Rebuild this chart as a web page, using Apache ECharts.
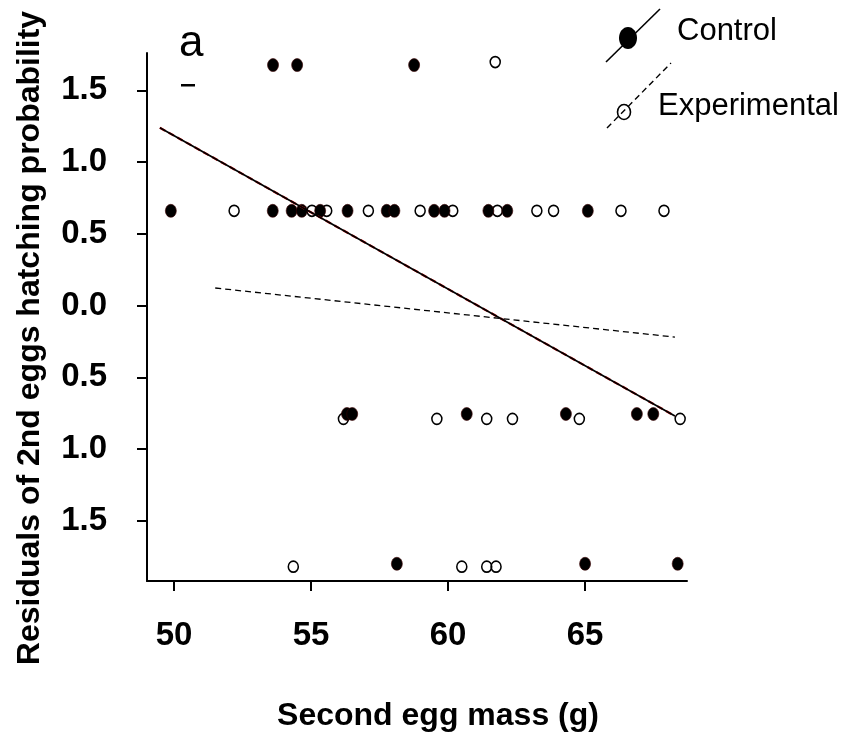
<!DOCTYPE html>
<html>
<head>
<meta charset="utf-8">
<script src="https://cdn.jsdelivr.net/npm/echarts@6/dist/echarts.min.js"></script>
<style>
  html, body { margin: 0; padding: 0; background: #fff; }
  #chart { width: 848px; height: 737px; }
</style>
</head>
<body>
<div id="chart"></div>
<script>
// Second egg mass (g) against residual hatching probability of the 2nd egg
const controlMass = [
  53.61, 54.49, 58.76,
  49.88, 53.60, 54.29, 54.66, 55.33, 56.33, 57.76, 58.04, 59.49, 59.87, 61.47, 62.16, 65.10,
  56.31, 56.50, 60.68, 64.30, 66.89, 67.49,
  58.13, 65.00, 68.38
];
const controlResid = [
  1.676, 1.676, 1.676,
  0.66, 0.66, 0.66, 0.66, 0.66, 0.66, 0.66, 0.66, 0.66, 0.66, 0.66, 0.66, 0.66,
  -0.756, -0.756, -0.756, -0.756, -0.756, -0.756,
  -1.80, -1.80, -1.80
];
const experimentalMass = [
  61.72,
  52.19, 55.03, 55.57, 57.09, 58.98, 60.17, 61.80, 63.24, 63.85, 66.31, 67.88,
  56.18, 59.59, 61.41, 62.35, 64.79, 68.47,
  54.35, 60.50, 61.41, 61.75
];
const experimentalResid = [
  1.697,
  0.66, 0.66, 0.66, 0.66, 0.66, 0.66, 0.66, 0.66, 0.66, 0.66, 0.66,
  -0.79, -0.79, -0.79, -0.79, -0.79, -0.79,
  -1.82, -1.82, -1.82, -1.82
];

// fitted regression lines (end points)
const controlFitMass = [49.48, 68.28];
const controlFitResid = [1.239, -0.77];
const experimentalFitMass = [51.5, 68.28];
const experimentalFitResid = [0.122, -0.22];

// axis ticks
const massTicks = [50, 55, 60, 65];
const residTicks = [-1.5, -1.0, -0.5, 0.0, 0.5, 1.0, 1.5];

const zip = (xs, ys) => xs.map((x, i) => [x, ys[i]]);

const FONT = '"Liberation Sans", Arial, Helvetica, sans-serif';
const chart = echarts.init(document.getElementById('chart'), null, { renderer: 'canvas' });

const axisCommon = {
  type: 'value',
  splitLine: { show: false },
  axisLine: { show: true, onZero: false, lineStyle: { color: '#000', width: 2 } },
  axisTick: { show: true, inside: false, length: 10, lineStyle: { color: '#000', width: 2 } },
  axisLabel: { color: '#000', fontFamily: FONT, fontWeight: 'bold', fontSize: 33 }
};

chart.setOption({
  backgroundColor: '#fff',
  animation: false,
  grid: { left: 147, top: 53, width: 540, height: 528, containLabel: false },
  xAxis: Object.assign({}, axisCommon, {
    min: 49.01, max: 68.72,
    axisTick: Object.assign({}, axisCommon.axisTick, { customValues: massTicks }),
    axisLabel: Object.assign({}, axisCommon.axisLabel, { customValues: massTicks, margin: 38 })
  }),
  yAxis: Object.assign({}, axisCommon, {
    min: -1.92, max: 1.76,
    axisTick: Object.assign({}, axisCommon.axisTick, { customValues: residTicks }),
    axisLabel: Object.assign({}, axisCommon.axisLabel, {
      customValues: residTicks, margin: 40,
      formatter: v => Math.abs(v).toFixed(1)
    })
  }),
  series: [
    {
      name: 'Experimental', type: 'scatter', z: 2,
      data: zip(experimentalMass, experimentalResid),
      symbol: 'circle', symbolSize: [10, 11],
      itemStyle: { color: 'rgba(255,255,255,0)', borderColor: '#000', borderWidth: 1.6, opacity: 1 }
    },
    {
      name: 'Control', type: 'scatter', z: 3,
      data: zip(controlMass, controlResid),
      symbol: 'circle', symbolSize: [11, 13],
      itemStyle: { color: '#000', borderColor: '#3a0000', borderWidth: 0.6, opacity: 1 }
    },
    {
      name: 'Control fit (under)', type: 'line', z: 4,
      data: zip(controlFitMass, controlFitResid),
      showSymbol: false, symbol: 'none',
      lineStyle: { color: '#d01010', width: 2.2, type: [6, 4] }
    },
    {
      name: 'Control fit', type: 'line', z: 5,
      data: zip(controlFitMass, controlFitResid),
      showSymbol: false, symbol: 'none',
      lineStyle: { color: '#000', width: 1.8 }
    },
    {
      name: 'Experimental fit', type: 'line', z: 5,
      data: zip(experimentalFitMass, experimentalFitResid),
      showSymbol: false, symbol: 'none',
      lineStyle: { color: '#000', width: 1.3, type: [6, 4] }
    }
  ],
  graphic: [
    // panel letter
    { type: 'text', left: 179, top: 22, style: { text: 'a', font: '44px ' + FONT, fill: '#000' } },
    { type: 'rect', shape: { x: 181, y: 84, width: 14, height: 2.5 }, style: { fill: '#000' } },
    // axis titles
    { type: 'text', x: 438, y: 716, style: { text: 'Second egg mass (g)', font: 'bold 32px ' + FONT, fill: '#000', align: 'center', verticalAlign: 'middle' } },
    { type: 'text', x: 30, y: 338, rotation: Math.PI / 2, style: { text: 'Residuals of 2nd eggs hatching probability', font: 'bold 32px ' + FONT, fill: '#000', align: 'center', verticalAlign: 'middle' } },
    // key: control
    { type: 'line', shape: { x1: 606, y1: 62, x2: 660, y2: 9 }, style: { stroke: '#000', lineWidth: 1.6 } },
    { type: 'ellipse', shape: { cx: 628, cy: 38, rx: 9, ry: 11 }, style: { fill: '#000' } },
    { type: 'text', x: 677, y: 31, style: { text: 'Control', font: '31px ' + FONT, fill: '#000', verticalAlign: 'middle' } },
    // key: experimental
    { type: 'line', shape: { x1: 607, y1: 128, x2: 671, y2: 63 }, style: { stroke: '#000', lineWidth: 1.4, lineDash: [6, 4] } },
    { type: 'ellipse', shape: { cx: 624, cy: 112, rx: 6.5, ry: 7.5 }, style: { fill: 'rgba(255,255,255,0)', stroke: '#000', lineWidth: 1.6 } },
    { type: 'text', x: 658, y: 106, style: { text: 'Experimental', font: '31px ' + FONT, fill: '#000', verticalAlign: 'middle' } }
  ]
});
</script>
</body>
</html>
